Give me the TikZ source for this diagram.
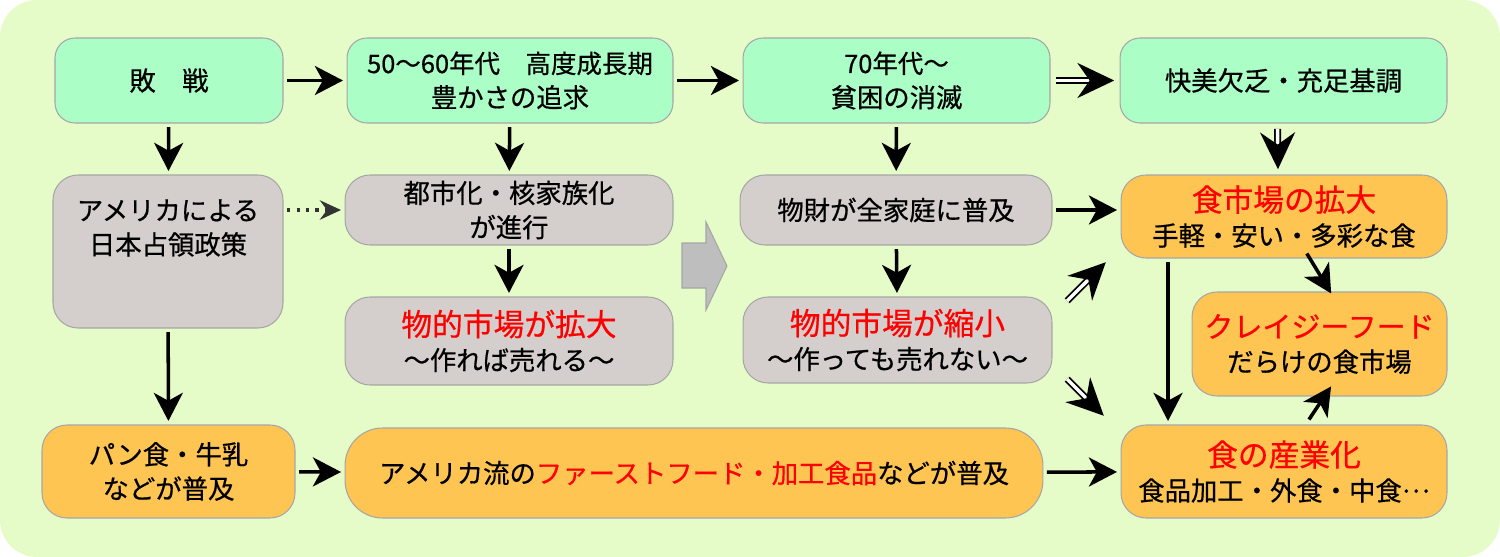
\documentclass[tikz,border=0pt]{standalone}
\usepackage{fontspec}
\setmainfont{Noto Sans CJK JP}[BoldFont=Noto Sans CJK JP, BoldFeatures={FakeBold=0.6}]
\usetikzlibrary{arrows.meta,positioning}

\definecolor{bgcol}{HTML}{E6FCC8}
\definecolor{mint}{HTML}{AAFEC6}
\definecolor{stone}{HTML}{D4CFCC}
\definecolor{amber}{HTML}{FFC552}
\definecolor{rim}{HTML}{A6A6A6}
\definecolor{bigarrow}{HTML}{BEBEBE}

\newcommand{\hl}[1]{\textcolor{red}{#1}}
\newcommand{\headline}[1]{{\fontsize{17.5}{19.5}\selectfont\color{red}#1}}
\newcommand{\smalline}[1]{{\fontsize{14.5}{19.5}\selectfont #1}}

\begin{document}
\begin{tikzpicture}[
    x=0.02cm, y=-0.02cm,
    >=Stealth,
    box/.style={draw=rim, line width=0.6pt, rounded corners=0.4cm, align=center, inner sep=0pt,
                font=\fontsize{15}{19.5}\selectfont\bfseries},
    era/.style={box, fill=mint},
    soc/.style={box, fill=stone, rounded corners=0.5cm},
    food/.style={box, fill=amber, rounded corners=0.5cm},
    arr/.style={line width=2pt, -{Stealth[length=16pt,width=16.5pt,inset=4.5pt]}, shorten >=2pt, shorten <=2pt},
    dbl/.style={double, double distance=2pt, line width=1pt,
                -{Stealth[length=21pt,width=20pt,inset=7pt]}, shorten >=3pt, shorten <=3pt},
    dots/.style={draw=black!80, line width=1.8pt, dash pattern=on 1.8pt off 3.6pt,
                 -{Stealth[length=12pt,width=11pt,inset=4pt]}, shorten >=2pt, shorten <=2pt}
]
\useasboundingbox (0,0) rectangle (1500,557);
\fill[bgcol, rounded corners=0.74cm] (0,0) rectangle (1500,557);

% top row: eras
\node[era, minimum width=4.56cm, minimum height=1.70cm] (defeat) at (169,80.5) {敗　戦};
\node[era, minimum width=6.52cm, minimum height=1.70cm] (growth) at (510,80.5)
    {\smalline{50〜60年代　高度成長期}\\豊かさの追求};
\node[era, minimum width=6.14cm, minimum height=1.70cm] (poverty) at (896.5,80.5)
    {\smalline{70年代〜}\\貧困の消滅};
\node[era, minimum width=6.54cm, minimum height=1.70cm] (pleasure) at (1283.5,80.5) {快美欠乏・充足基調};

% middle rows
\node[soc, minimum width=4.60cm, minimum height=3.06cm] (occupy) at (168,251.5) {};
\node[align=center, inner sep=0pt, font=\fontsize{15}{19.5}\selectfont\bfseries] (occupytxt) at (168,228)
    {アメリカによる\\日本占領政策};
\node[soc, minimum width=6.56cm, minimum height=1.40cm] (urban) at (509,210)
    {都市化・核家族化\\が進行};
\node[soc, minimum width=6.56cm, minimum height=1.76cm] (marketup) at (509,341)
    {\headline{物的市場が拡大}\\〜作れば売れる〜};
\node[soc, minimum width=6.24cm, minimum height=1.40cm] (goods) at (896,210) {物財が全家庭に普及};
\node[soc, minimum width=6.18cm, minimum height=1.72cm] (marketdown) at (897.5,340)
    {\headline{物的市場が縮小}\\〜作っても売れない〜};

% food side
\node[food, minimum width=6.52cm, minimum height=1.66cm] (foodup) at (1284,216.5)
    {\headline{食市場の拡大}\\手軽・安い・多彩な食};
\node[food, minimum width=5.10cm, minimum height=2.08cm] (crazy) at (1319.5,344)
    {{\fontsize{16.5}{19.5}\selectfont\color{red}クレイジーフード}\\だらけの食市場};
\node[food, minimum width=6.52cm, minimum height=1.86cm] (industry) at (1284,471.5)
    {\headline{食の産業化}\\食品加工・外食・中食\raisebox{0.3em}{…}};

% bottom row
\node[food, minimum width=5.06cm, minimum height=1.86cm] (bread) at (168.5,471.5)
    {パン食・牛乳\\などが普及};
\node[food, minimum width=13.96cm, minimum height=1.80cm, rounded corners=0.75cm] (fastfood) at (694,473)
    {アメリカ流の\hl{ファーストフード・加工食品}などが普及};

% big gray arrow
\filldraw[fill=bigarrow, draw=rim, line width=0.6pt]
    (682,243) -- (706,243) -- (706,222) -- (727,266) -- (706,310) -- (706,288) -- (682,288) -- cycle;

% connectors
\draw[arr] (defeat) -- (growth);
\draw[arr] (growth) -- (poverty);
\draw[dbl] (poverty) -- (pleasure);
\draw[arr] (defeat) -- (occupy);
\draw[arr] (growth) -- (urban);
\draw[arr] (poverty) -- (goods);
\draw[dbl] ([shift={(-6,0)}]pleasure.south) -- ([shift={(-6,0)}]foodup.north);
\draw[dots] (occupy.east |- urban) -- (urban);
\draw[arr] (urban) -- (marketup);
\draw[arr] (goods) -- (marketdown);
\draw[arr] (goods) -- (goods -| foodup.west);
\draw[dbl] ([shift={(11,8)}]marketdown.north east) -- ([shift={(-11,0)}]foodup.south west);
\draw[dbl] ([shift={(11,-8)}]marketdown.south east) -- ([shift={(-13,-5)}]industry.north west);
\draw[arr] (occupy) -- (bread);
\draw[arr] (bread) -- (fastfood);
\draw[arr] (fastfood) -- (industry);
\draw[arr] ([shift={(-116,0)}]foodup.south) -- ([shift={(-116,0)}]industry.north);
\draw[arr] ([shift={(21,-8)}]foodup.south) -- ([shift={(13.5,5)}]crazy.north);
\draw[arr] ([shift={(23,-2)}]industry.north) -- ([shift={(13.5,-13)}]crazy.south);
\end{tikzpicture}
\end{document}
